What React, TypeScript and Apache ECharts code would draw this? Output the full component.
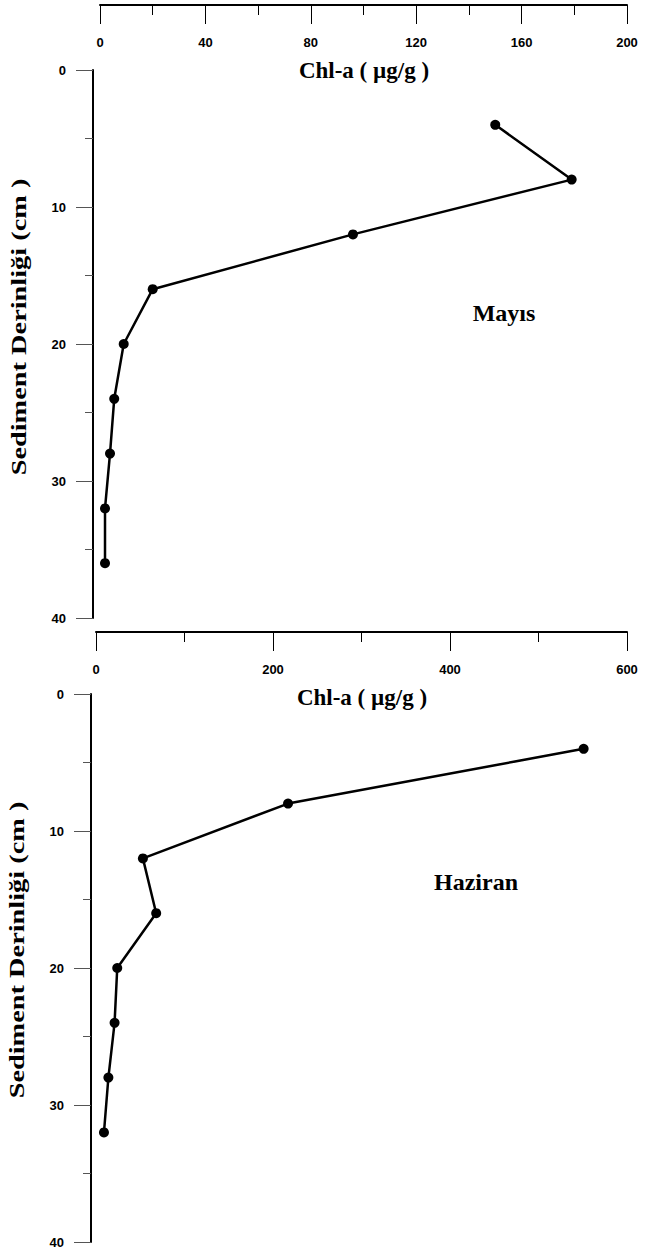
import React, { useEffect, useRef } from "react";
import * as echarts from "echarts";

// Depth (cm) and Chl-a (µg/g) values
const depthsMayis = [4, 8, 12, 16, 20, 24, 28, 32, 36];
const chlMayis = [150, 179, 96, 20, 9, 5.4, 3.8, 1.9, 1.9];
const depthsHaziran = [4, 8, 12, 16, 20, 24, 28, 32];
const chlHaziran = [551, 217, 53, 68, 24, 21, 14, 9];

const xMax1 = 200;
const xInterval1 = 40;
const xMax2 = 600;
const xInterval2 = 200;
const yMax = 40;
const yInterval = 10;

const xTitle = "Chl-a ( µg/g )";
const yTitle = "Sediment Derinliği (cm )";
const panelNames = ["Mayıs", "Haziran"];

const labelFont = {
  fontFamily: "'Liberation Sans', Arial, sans-serif",
  fontWeight: "bold" as const,
  fontSize: 13,
  color: "#000",
};
const titleFont = "'Liberation Serif', 'Times New Roman', serif";

function xAxisCfg(grid: number, max: number, interval: number, offset: number) {
  return {
    type: "value",
    gridIndex: grid,
    position: "top",
    min: 0,
    max,
    interval,
    offset,
    axisLine: { show: true, onZero: false, lineStyle: { color: "#000", width: 2 } },
    axisTick: { show: true, inside: true, length: 19, lineStyle: { color: "#000", width: 1 } },
    minorTick: { show: true, splitNumber: 2, length: 10, lineStyle: { color: "#000", width: 1 } },
    axisLabel: { inside: true, margin: 31, ...labelFont },
    splitLine: { show: false },
    minorSplitLine: { show: false },
  };
}

function yAxisCfg(grid: number, offset: number) {
  return {
    type: "value",
    gridIndex: grid,
    inverse: true,
    min: 0,
    max: yMax,
    interval: yInterval,
    offset,
    axisLine: { show: true, onZero: false, lineStyle: { color: "#000", width: 2 } },
    axisTick: { show: true, length: 17, lineStyle: { color: "#555", width: 1 } },
    minorTick: { show: true, splitNumber: 2, length: 8, lineStyle: { color: "#555", width: 1 } },
    axisLabel: { margin: 27, ...labelFont },
    splitLine: { show: false },
    minorSplitLine: { show: false },
  };
}

function seriesCfg(idx: number, xs: number[], ys: number[]) {
  return {
    type: "line",
    xAxisIndex: idx,
    yAxisIndex: idx,
    data: xs.map((v, i) => [v, ys[i]]),
    symbol: "circle",
    symbolSize: 10,
    showSymbol: true,
    lineStyle: { color: "#000", width: 2.5 },
    itemStyle: { color: "#000" },
    emphasis: { disabled: true },
  };
}

function textEl(text: string, x: number, y: number, size: number, extra: any = {}) {
  return {
    type: "text",
    x,
    y,
    ...extra,
    style: {
      text,
      fontFamily: titleFont,
      fontWeight: "bold",
      fontSize: size,
      fill: "#000",
      align: "center",
      verticalAlign: "middle",
    },
  };
}

export default function App() {
  const ref = useRef<HTMLDivElement>(null);
  useEffect(() => {
    if (!ref.current) return;
    const chart = echarts.init(ref.current, null, { renderer: "svg" });
    chart.setOption({
      animation: false,
      backgroundColor: "#fff",
      grid: [
        { left: 100, right: 18, top: 70, height: 548, outerBoundsMode: "none" },
        { left: 96, right: 18, top: 694, height: 548, outerBoundsMode: "none" },
      ],
      xAxis: [
        xAxisCfg(0, xMax1, xInterval1, 65),
        xAxisCfg(1, xMax2, xInterval2, 62),
      ],
      yAxis: [yAxisCfg(0, 7), yAxisCfg(1, 5)],
      series: [
        seriesCfg(0, chlMayis, depthsMayis),
        seriesCfg(1, chlHaziran, depthsHaziran),
      ],
      graphic: [
        textEl(xTitle, 364, 70, 23),
        textEl(xTitle, 362, 697, 23),
        textEl(yTitle, 19, 327, 21, { rotation: Math.PI / 2, scaleX: 1.35 }),
        textEl(yTitle, 17, 950, 21, { rotation: Math.PI / 2, scaleX: 1.35 }),
        textEl(panelNames[0], 504, 313, 24),
        textEl(panelNames[1], 476, 882, 24),
      ],
    });
    return () => chart.dispose();
  }, []);
  return (
    <div
      ref={ref}
      style={{ position: "absolute", left: 0, top: 0, width: 645, height: 1253 }}
    />
  );
}
